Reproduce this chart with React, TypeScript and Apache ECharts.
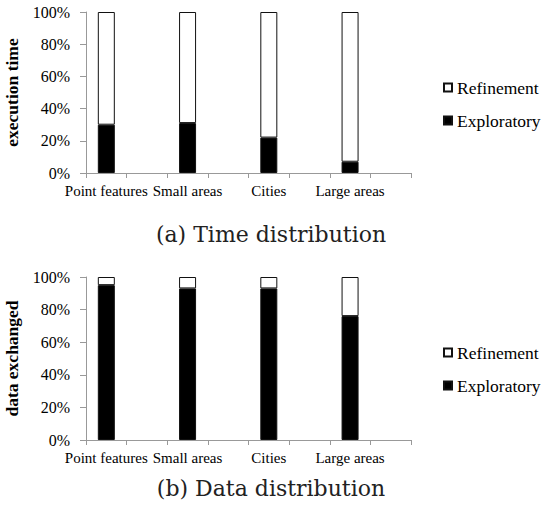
import React, { useEffect, useRef } from "react";
import * as echarts from "echarts";

const categories = ["Point features", "Small areas", "Cities", "Large areas"];
const yTicks = [0, 20, 40, 60, 80, 100];
const timeExploratory = [30, 31, 22, 7];
const timeRefinement = [70, 69, 78, 93];
const dataExploratory = [95, 93, 93, 76];
const dataRefinement = [5, 7, 7, 24];
const captions = ["(a) Time distribution", "(b) Data distribution"];
const yNames = ["execution time", "data exchanged"];

// each category takes two axis slots (bar + empty spacer slot)
const axisCats: string[] = [];
categories.forEach((c) => {
  axisCats.push(c);
  axisCats.push("");
});
const spread = (vals: number[]) => {
  const out: (number | string)[] = [];
  vals.forEach((v) => {
    out.push(v);
    out.push("-");
  });
  return out;
};

const serif = "Liberation Serif";

export default function App() {
  const ref = useRef<HTMLDivElement>(null);
  useEffect(() => {
    if (!ref.current) return;
    const chart = echarts.init(ref.current, null, { renderer: "svg" });
    const grids = [
      { left: 86, width: 325, top: 12, height: 161, outerBoundsMode: "none", containLabel: false },
      { left: 86, width: 325, top: 277, height: 163, outerBoundsMode: "none", containLabel: false },
    ];
    const xAxis = grids.map((_, i) => ({
      type: "category",
      gridIndex: i,
      data: axisCats,
      axisLine: { lineStyle: { color: "#999", width: 1 } },
      axisTick: { show: true, length: 5, lineStyle: { color: "#999" } },
      axisLabel: {
        interval: 0,
        color: "#000",
        fontFamily: serif,
        fontSize: 15,
        margin: 10,
      },
    }));
    const yAxis = grids.map((_, i) => ({
      type: "value",
      gridIndex: i,
      min: yTicks[0],
      max: yTicks[yTicks.length - 1],
      interval: yTicks[1] - yTicks[0],
      name: yNames[i],
      nameLocation: "middle",
      nameRotate: 90,
      nameGap: 65,
      nameTextStyle: {
        fontFamily: serif,
        fontWeight: "bold",
        fontSize: 17.5,
        color: "#000",
      },
      axisLine: { show: true, lineStyle: { color: "#999", width: 1 } },
      axisTick: { show: true, length: 6, lineStyle: { color: "#999" } },
      splitLine: { show: false },
      axisLabel: {
        color: "#000",
        fontFamily: serif,
        fontSize: 16,
        margin: 16,
        formatter: (v: number) => v + "%",
      },
    }));
    const mk = (name: string, data: number[], idx: number, fill: string) => ({
      name,
      type: "bar",
      xAxisIndex: idx,
      yAxisIndex: idx,
      stack: "s" + idx,
      data: spread(data),
      barWidth: 17,
      itemStyle: { color: fill, borderColor: "#111", borderWidth: 1 },
    });
    const legendCommon = {
      orient: "vertical",
      left: 443,
      padding: 0,
      itemWidth: 8,
      itemHeight: 8,
      itemGap: 14,
      icon: "rect",
      data: ["Refinement", "Exploratory"],
      textStyle: {
        fontFamily: serif,
        fontSize: 17.5,
        color: "#000",
        lineHeight: 19,
      },
    };
    chart.setOption({
      animation: false,
      backgroundColor: "#fff",
      textStyle: { fontFamily: serif },
      grid: grids,
      xAxis,
      yAxis,
      legend: [
        { ...legendCommon, top: 78 },
        { ...legendCommon, top: 343 },
      ],
      title: captions.map((t, i) => ({
        text: t,
        left: "center",
        top: i === 0 ? 218 : 472,
        textStyle: {
          fontFamily: "DejaVu Serif",
          fontWeight: "normal",
          fontSize: 22,
          color: "#222",
        },
      })),
      series: [
        mk("Exploratory", timeExploratory, 0, "#000"),
        mk("Refinement", timeRefinement, 0, "#fff"),
        mk("Exploratory", dataExploratory, 1, "#000"),
        mk("Refinement", dataRefinement, 1, "#fff"),
      ],
    });
    return () => chart.dispose();
  }, []);
  return (
    <div
      ref={ref}
      style={{ position: "absolute", left: 0, top: 0, width: 542, height: 508 }}
    />
  );
}
